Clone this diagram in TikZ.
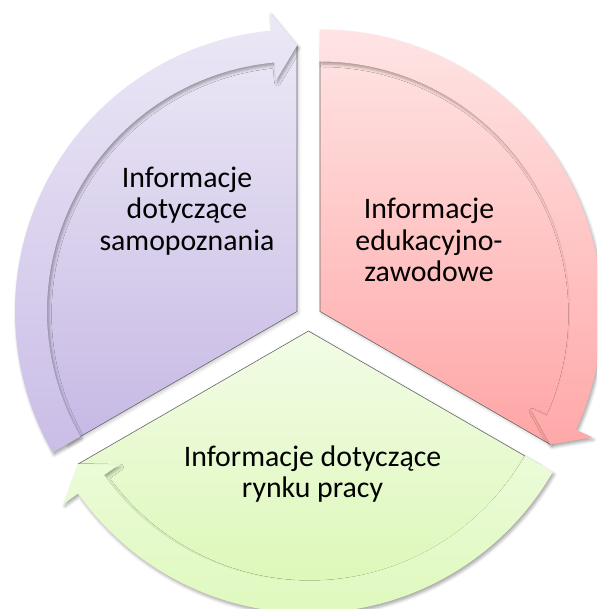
\documentclass[tikz,border=0pt]{standalone}
\usepackage{fontspec}
\setmainfont{Carlito}
\usetikzlibrary{shadows.blur}
\definecolor{pTop}{HTML}{EBE7F5}
\definecolor{pBot}{HTML}{C6B8E4}
\definecolor{pbTop}{HTML}{ECE8F6}
\definecolor{pbBot}{HTML}{CABDE7}
\definecolor{rTop}{HTML}{FFE3E3}
\definecolor{rBot}{HTML}{FFA5A5}
\definecolor{rbTop}{HTML}{FFE4E4}
\definecolor{rbBot}{HTML}{FFA8A8}
\definecolor{gTop}{HTML}{F2FCE6}
\definecolor{gBot}{HTML}{D9F7B0}
\definecolor{gbTop}{HTML}{EBFBD8}
\definecolor{gbBot}{HTML}{DFF9BE}
\tikzset{
  wedgeshade/.style={blur shadow={shadow xshift=1.5pt, shadow yshift=-2pt, shadow blur radius=3pt, shadow opacity=20}},
  bandshade/.style={blur shadow={shadow xshift=1.5pt, shadow yshift=-2.5pt, shadow blur radius=3pt, shadow opacity=35}},
  edgeline/.style={draw=black!60, line width=0.6pt},
  lbl/.style={align=center, inner sep=0pt, font=\fontsize{29.8}{31.5}\selectfont, text=black}
}
\newcommand\drawsegment[6]{%
\begin{scope}[shift={#1}]
\pgfmathsetmacro\segsa{#2+120}
\pgfmathsetmacro\segba{#2+5.2}
\path[wedgeshade, top color=#3, bottom color=#4] (0,0) -- (#2:266) arc[start angle=#2, end angle=\segsa, radius=266] -- cycle;
\draw[edgeline] (\segsa:250) -- (0,0) -- (#2:266);
\path[bandshade, top color=#5, bottom color=#6] (\segsa:282) arc[start angle=\segsa, end angle=\segba, radius=282] -- (\segba:300) -- (#2:266) -- (\segba:232) -- (\segba:250) arc[start angle=\segba, end angle=\segsa, radius=250] -- cycle;
\end{scope}}
\begin{document}
\begin{tikzpicture}[x=1pt,y=1pt]
\useasboundingbox (0,0) rectangle (597,609);
\clip (0,0) rectangle (597,609);
\drawsegment{(297,297.5)}{90}{pTop}{pBot}{pbTop}{pbBot}
\drawsegment{(320,297.5)}{-30}{rTop}{rBot}{rbTop}{rbBot}
\drawsegment{(308.5,278)}{210}{gTop}{gBot}{gbTop}{gbBot}
\node[lbl] (tp) at (187,398) {Informacje\\dotyczące\\samopoznania};
\node[lbl] (tr) at (429,369) {Informacje\\edukacyjno-\\zawodowe};
\node[lbl] (tg) at (312.5,135) {Informacje dotyczące\\rynku pracy};
\end{tikzpicture}
\end{document}
